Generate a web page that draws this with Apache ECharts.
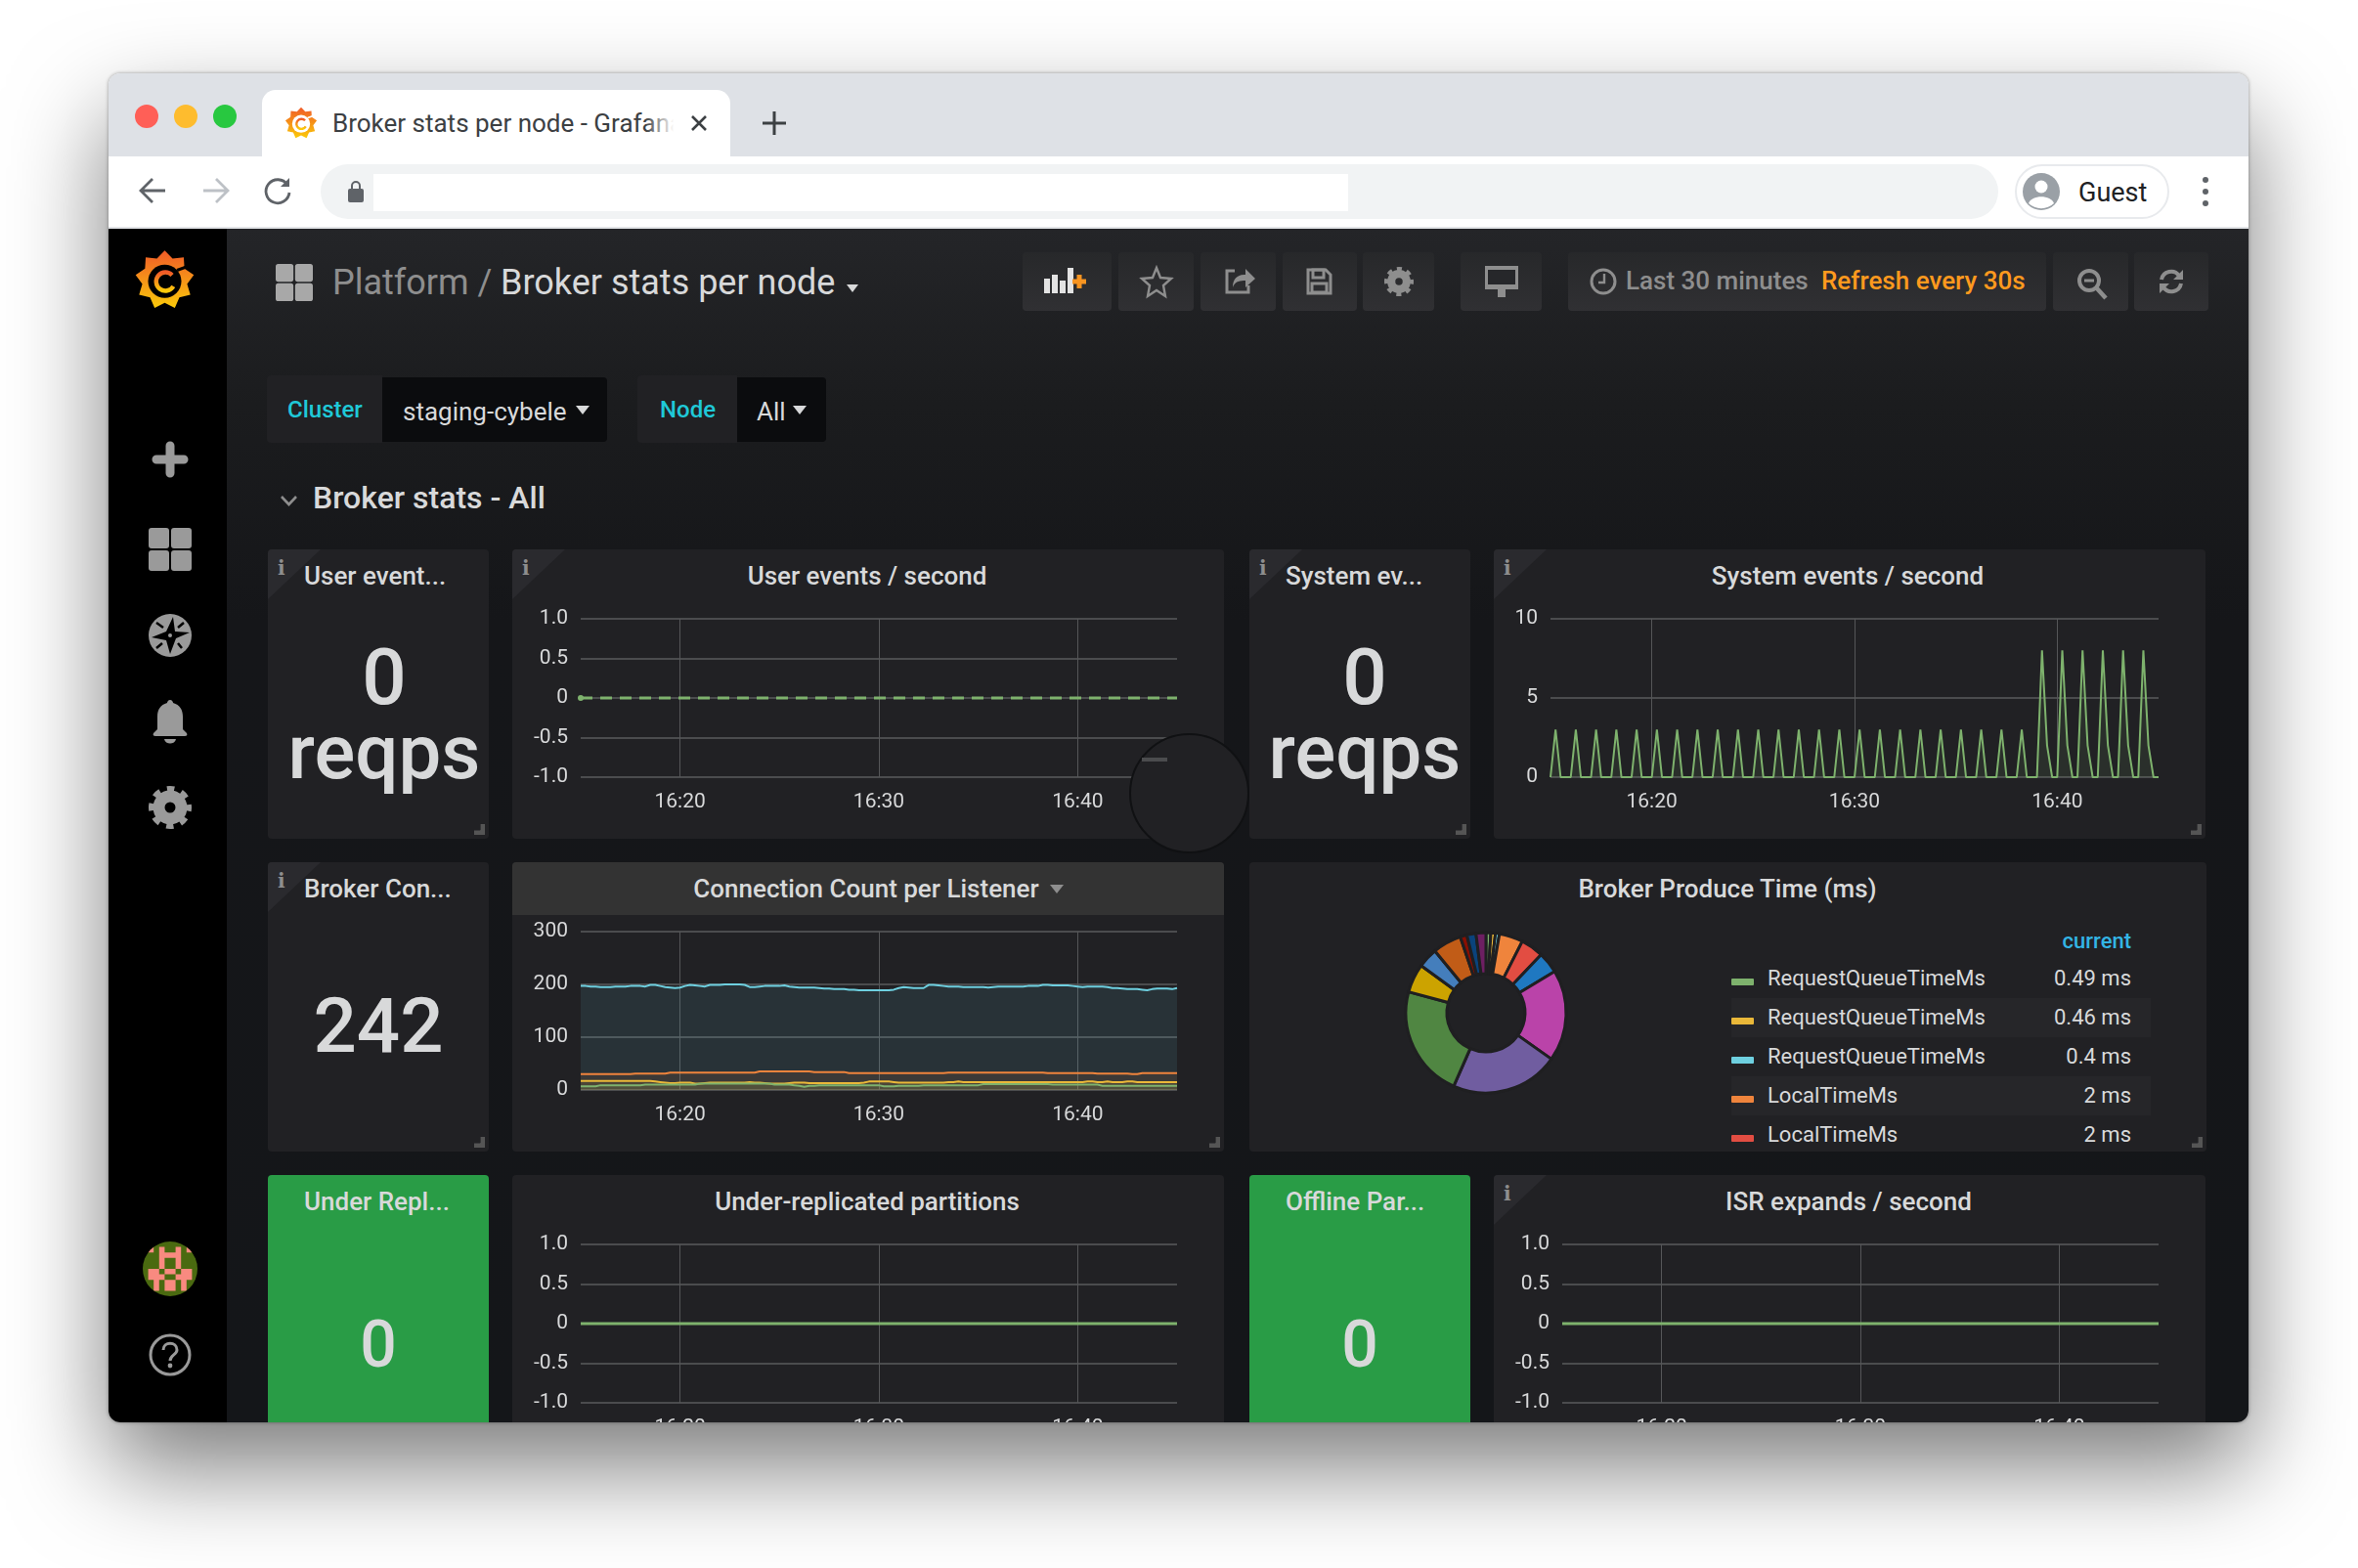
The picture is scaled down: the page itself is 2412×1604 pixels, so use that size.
<!DOCTYPE html>
<html>
<head>
<meta charset="utf-8">
<title>Broker stats per node - Grafana</title>
<script src="https://cdn.jsdelivr.net/npm/echarts@6/dist/echarts.min.js"></script>
<style>
    html, body { margin: 0; padding: 0; background: #fff; }
    body { width: 2412px; height: 1604px; overflow: hidden; position: relative; font-family: Roboto, sans-serif; }
    #win { position: absolute; left: 111px; top: 75px; width: 2189px; height: 1380px; border-radius: 12px; overflow: hidden; }
    #shadow { position: absolute; left: 111px; top: 75px; width: 2189px; height: 1380px; border-radius: 12px;
              box-shadow: 0 46px 100px rgba(0,0,0,.52), 0 0 3px 1px rgba(0,0,0,.22); }
    #inner { position: absolute; left: -111px; top: -75px; width: 2412px; height: 1604px; }
    .b { position: absolute; }
    .t { position: absolute; white-space: nowrap; line-height: 1; transform: translateY(-50%); color: #d8d9da; }
    .c { transform: translate(-50%,-50%); }
    .r { transform: translate(-100%,-50%); }
    .m { font-weight: 500; }
    .ic { position: absolute; overflow: visible; }
    .panel { position: absolute; background: #212124; border-radius: 4px; overflow: hidden; }
    .green { background: #299c46; }
    .btn { position: absolute; top: 258px; height: 60px; border-radius: 4px; background: linear-gradient(#27282a,#303033); }
    .corner { position: absolute; left: 0; top: 0; width: 0; height: 0; border-top: 51px solid #2a2a2e; border-right: 54px solid transparent; }
    .info { position: absolute; left: 10px; top: 9px; font: bold 20px "DejaVu Serif", serif; color: #8e8e8e; line-height: 20px; }
    .grip { position: absolute; width: 11px; height: 11px; border-right: 5px solid #555; border-bottom: 5px solid #555;
            clip-path: polygon(100% 0,100% 100%,0 100%,0 60%,60% 60%,60% 0); box-sizing: border-box; }
    .ptitle { font-size: 26px; font-weight: 500; top: 27px; }
    #chart { position: absolute; left: 0; top: 0; width: 2412px; height: 1604px; }
    .row { position: absolute; left: 1771px; width: 429px; height: 40px; }
    .row.alt { background: #262629; }
    .swatch { position: absolute; left: 0; top: 20px; width: 23px; height: 7px; border-radius: 1px; }
</style>
</head>
<body>
<svg width="0" height="0" style="position:absolute">
    <defs>
        <linearGradient id="gfg" x1="0" y1="0" x2="0" y2="1">
            <stop offset="0" stop-color="#f05a28"/><stop offset="1" stop-color="#fbca0a"/>
        </linearGradient>
        <symbol id="logo" viewBox="0 0 100 100">
            <path d="M50 2L62.700 15.200L80.900 13.200L82 31.500L97.300 41.700L86.400 56.400L91.600 74L73.800 78.300L66.400 95.100L50 87L33.600 95.100L26.200 78.300L8.400 74L13.600 56.400L2.700 41.700L18 31.500L19.100 13.200L37.300 15.200Z" fill="url(#gfg)"/>
            <circle cx="50" cy="52" r="27" style="fill:var(--hole)"/>
            <path d="M70 34L92 26" style="stroke:var(--hole)" stroke-width="5"/>
            <path d="M62 42A15 15 0 1 0 64 60" fill="none" stroke="url(#gfg)" stroke-width="7"/>
        </symbol>
        <symbol id="gear" viewBox="0 0 44 44">
            <circle cx="22" cy="22" r="11.500" fill="none" stroke="currentColor" stroke-width="12"/>
            <circle cx="22" cy="22" r="19" fill="none" stroke="currentColor" stroke-width="6" stroke-dasharray="7.460 7.460" stroke-dashoffset="3.700"/>
        </symbol>
        <symbol id="grid4" viewBox="0 0 44 44">
            <rect x="0" y="0" width="21" height="21" rx="3" fill="currentColor"/><rect x="23" y="0" width="21" height="21" rx="3" fill="currentColor"/>
            <rect x="0" y="23" width="21" height="21" rx="3" fill="currentColor"/><rect x="23" y="23" width="21" height="21" rx="3" fill="currentColor"/>
        </symbol>
    </defs>
</svg>
<div id="shadow"></div>
<div id="win"><div id="inner">

    <!-- browser chrome -->
    <div class="b" style="left:111px;top:75px;width:2189px;height:85px;background:#dee1e6"></div>
    <div class="b" style="left:111px;top:160px;width:2189px;height:72px;background:#fff"></div>
    <div class="b" style="left:111px;top:232px;width:2189px;height:2px;background:#e3e5e8"></div>
    <div class="b" style="left:138px;top:107px;width:24px;height:24px;border-radius:50%;background:#ff5f57"></div>
    <div class="b" style="left:178px;top:107px;width:24px;height:24px;border-radius:50%;background:#febc2e"></div>
    <div class="b" style="left:218px;top:107px;width:24px;height:24px;border-radius:50%;background:#28c840"></div>
    <div class="b" style="left:268px;top:92px;width:479px;height:68px;background:#fff;border-radius:14px 14px 0 0"></div>
    <svg class="ic" style="left:291px;top:109px;width:34px;height:34px;--hole:#fff"><use href="#logo"/></svg>
    <div class="t" style="left:340px;top:126px;font-size:26px;color:#3c4043">Broker stats per node - Grafana</div>
    <div class="b" style="left:660px;top:105px;width:42px;height:42px;background:linear-gradient(90deg,rgba(255,255,255,0),#fff 70%)"></div>
    <svg class="ic" style="left:706px;top:117px;width:18px;height:18px" viewBox="0 0 18 18"><path d="M2 2L16 16M16 2L2 16" stroke="#3c4043" stroke-width="2.600"/></svg>
    <svg class="ic" style="left:780px;top:114px;width:24px;height:24px" viewBox="0 0 24 24"><path d="M12 0V24M0 12H24" stroke="#3c4043" stroke-width="3"/></svg>
    <svg class="ic" style="left:142px;top:182px;width:28px;height:26px" viewBox="0 0 28 26"><path d="M27 13H3M14 1L2 13L14 25" fill="none" stroke="#5f6368" stroke-width="2.800"/></svg>
    <svg class="ic" style="left:207px;top:182px;width:28px;height:26px" viewBox="0 0 28 26"><path d="M1 13H25M14 1L26 13L14 25" fill="none" stroke="#bdc1c6" stroke-width="2.800"/></svg>
    <svg class="ic" style="left:270px;top:181px;width:28px;height:28px" viewBox="0 0 28 28"><path d="M24 8A12 12 0 1 0 26 16" fill="none" stroke="#5f6368" stroke-width="2.800"/><path d="M26 1V10H17Z" fill="#5f6368"/></svg>
    <div class="b" style="left:328px;top:168px;width:1716px;height:56px;background:#f1f3f4;border-radius:28px"></div>
    <div class="b" style="left:382px;top:178px;width:997px;height:38px;background:#fff"></div>
    <svg class="ic" style="left:355px;top:185px;width:18px;height:22px" viewBox="0 0 18 22"><rect x="1" y="8" width="16" height="14" rx="2" fill="#5f6368"/><path d="M5 9V5a4 4 0 0 1 8 0V9" fill="none" stroke="#5f6368" stroke-width="2"/></svg>
    <div class="b" style="left:2061px;top:168px;width:154px;height:52px;border:2px solid #e8eaed;border-radius:28px"></div>
    <svg class="ic" style="left:2069px;top:177px;width:38px;height:38px" viewBox="0 0 38 38"><circle cx="19" cy="19" r="19" fill="#9aa0a6"/><circle cx="19" cy="14" r="6.500" fill="#fff"/><path d="M6 31c3-9 23-9 26 0a19 19 0 0 1-26 0z" fill="#fff"/></svg>
    <div class="t" style="left:2126px;top:197px;font-size:27px;color:#202124">Guest</div>
    <div class="b" style="left:2253px;top:181px;width:6px;height:6px;border-radius:50%;background:#5f6368"></div>
    <div class="b" style="left:2253px;top:193px;width:6px;height:6px;border-radius:50%;background:#5f6368"></div>
    <div class="b" style="left:2253px;top:205px;width:6px;height:6px;border-radius:50%;background:#5f6368"></div>

    <!-- grafana page -->
    <div class="b" style="left:232px;top:234px;width:2068px;height:1221px;background:linear-gradient(#242528 0,#1b1c1e 180px,#151619 400px,#141619 100%)"></div>
    <div class="b" style="left:111px;top:234px;width:121px;height:1221px;background:#000"></div>
    <svg class="ic" style="left:137px;top:255px;width:63px;height:63px;--hole:#000"><use href="#logo"/></svg>
    <svg class="ic" style="left:157px;top:453px;width:34px;height:34px" viewBox="0 0 34 34"><path d="M17 3V31M3 17H31" stroke="#9a9a9a" stroke-width="9" stroke-linecap="round"/></svg>
    <svg class="ic" style="left:152px;top:540px;width:44px;height:44px;color:#9a9a9a"><use href="#grid4"/></svg>
    <svg class="ic" style="left:152px;top:628px;width:44px;height:44px" viewBox="0 0 44 44"><circle cx="22" cy="22" r="22" fill="#9a9a9a"/><path d="M25 3L27 18L42 19L28 25L22 41L18 27L3 24L18 18Z" fill="#000"/><path d="M8 9L15 14M36 9L30 14M8 35L14 30M34 35L30 30" stroke="#000" stroke-width="2.500"/><circle cx="22" cy="22" r="2" fill="#9a9a9a"/></svg>
    <svg class="ic" style="left:156px;top:716px;width:36px;height:46px" viewBox="0 0 36 46"><path d="M18 0c2 0 3 2 3 3c7 2 10 7 10 14v13l4 4c1 2 0 3-2 3H3c-2 0-3-1-2-3l4-4V17C5 10 8 5 15 3c0-1 1-3 3-3z" fill="#9a9a9a"/><path d="M12 40h12c-1 6-11 6-12 0z" fill="#9a9a9a"/></svg>
    <svg class="ic" style="left:152px;top:804px;width:44px;height:44px;color:#9a9a9a"><use href="#gear"/></svg>
    <svg class="ic" style="left:146px;top:1270px;width:56px;height:56px" viewBox="0 0 10 10">
        <clipPath id="av"><circle cx="5" cy="5" r="5"/></clipPath>
        <g clip-path="url(#av)"><rect width="10" height="10" fill="#4a6a10"/>
        <path d="M1 1h1v1h-1zM3 1h1v1h2v-1h1v4h-1v-2h-2v2h-1zM8 1h1v1h-1zM1 5h2v1h1v1h-1v2h-1v-2h-1zM4 5h2v1h-2zM7 5h2v2h-1v2h-1v-2h-1v-1h1zM4 7h2v2h-2z" fill="#f98a80"/></g>
    </svg>
    <svg class="ic" style="left:152px;top:1364px;width:44px;height:44px" viewBox="0 0 44 44"><circle cx="22" cy="22" r="20" fill="none" stroke="#9a9a9a" stroke-width="3"/><path d="M15 17c0-9 14-9 14 0c0 5-7 5-7 11" fill="none" stroke="#9a9a9a" stroke-width="3"/><circle cx="22" cy="33" r="2.400" fill="#9a9a9a"/></svg>

    <!-- header row -->
    <svg class="ic" style="left:282px;top:270px;width:38px;height:38px;color:#a8a8a8"><use href="#grid4"/></svg>
    <div class="t" style="left:340px;top:289px;font-size:36px;color:#8e8e8e">Platform /</div>
    <div class="t" style="left:512px;top:289px;font-size:36px">Broker stats per node</div>
    <svg class="ic" style="left:866px;top:291px;width:12px;height:8px" viewBox="0 0 12 8"><path d="M0 0H12L6 8Z" fill="#d8d9da"/></svg>

    <div class="btn" style="left:1046px;width:91px"></div>
    <div class="btn" style="left:1144px;width:77px"></div>
    <div class="btn" style="left:1228px;width:77px"></div>
    <div class="btn" style="left:1312px;width:76px"></div>
    <div class="btn" style="left:1394px;width:73px"></div>
    <div class="btn" style="left:1494px;width:83px"></div>
    <div class="btn" style="left:1604px;width:489px"></div>
    <div class="btn" style="left:2100px;width:77px"></div>
    <div class="btn" style="left:2183px;width:76px"></div>
    <svg class="ic" style="left:1068px;top:274px;width:48px;height:26px" viewBox="0 0 48 26"><path d="M0 11h6v15h-6zM8 7h6v19h-6zM16 13h6v13h-6zM24 0h6v26h-6z" fill="#e3e3e3"/><path d="M36 7V21M29 14H43" stroke="#f79420" stroke-width="5"/></svg>
    <svg class="ic" style="left:1167px;top:272px;width:32px;height:32px" viewBox="0 0 32 32"><path d="M16 2L20 12L31 13L23 20L25 31L16 25L7 31L9 20L1 13L12 12Z" fill="none" stroke="#8e8e8e" stroke-width="2.400"/></svg>
    <svg class="ic" style="left:1252px;top:272px;width:32px;height:30px" viewBox="0 0 32 30"><path d="M11 5H3v22h22v-7" fill="none" stroke="#8e8e8e" stroke-width="3"/><path d="M9 22c0-10 6-13 13-13V3l10 10l-10 9v-7c-6 0-11 1-13 7z" fill="#8e8e8e"/></svg>
    <svg class="ic" style="left:1336px;top:274px;width:27px;height:28px" viewBox="0 0 27 28"><path d="M2 2H20L25 7V26H2Z" fill="none" stroke="#8e8e8e" stroke-width="3"/><path d="M7 2H18V10H7ZM6 16H21V25H6Z" fill="none" stroke="#8e8e8e" stroke-width="3"/></svg>
    <svg class="ic" style="left:1416px;top:273px;width:30px;height:30px;color:#8e8e8e"><use href="#gear"/></svg>
    <svg class="ic" style="left:1518px;top:272px;width:36px;height:32px" viewBox="0 0 36 32"><path d="M1 0H35V24H1Z" fill="#8e8e8e"/><path d="M4 4H32V19H4Z" fill="#26272a"/><path d="M14 24H22V32H14Z" fill="#8e8e8e"/></svg>
    <svg class="ic" style="left:1626px;top:274px;width:28px;height:28px" viewBox="0 0 28 28"><circle cx="14" cy="14" r="12" fill="none" stroke="#8e8e8e" stroke-width="3"/><path d="M15 6V15H9" fill="none" stroke="#8e8e8e" stroke-width="2.400"/></svg>
    <div class="t m" style="left:1663px;top:287px;font-size:26px;color:#8e8e8e">Last 30 minutes</div>
    <div class="t m" style="left:1863px;top:287px;font-size:26px;color:#ff9a1e">Refresh every 30s</div>
    <svg class="ic" style="left:2124px;top:274px;width:32px;height:32px" viewBox="0 0 32 32"><circle cx="13" cy="13" r="10" fill="none" stroke="#8e8e8e" stroke-width="4"/><path d="M20 20L30 31" stroke="#8e8e8e" stroke-width="4.500"/><path d="M8 13H18" stroke="#8e8e8e" stroke-width="3"/></svg>
    <svg class="ic" style="left:2207px;top:274px;width:28px;height:28px" viewBox="0 0 28 28"><path d="M4 12A10 10 0 0 1 22 8M24 16A10 10 0 0 1 6 20" fill="none" stroke="#8e8e8e" stroke-width="4"/><path d="M26 2V12H16ZM2 26V16H12Z" fill="#8e8e8e"/></svg>

    <!-- template variables -->
    <div class="b" style="left:273px;top:384px;width:118px;height:69px;background:#212124;border-radius:4px 0 0 4px"></div>
    <div class="b" style="left:391px;top:386px;width:230px;height:66px;background:#0b0c0e;border-radius:0 4px 4px 0"></div>
    <div class="t m" style="left:294px;top:419px;font-size:24px;color:#1fc9d8">Cluster</div>
    <div class="t" style="left:412px;top:421px;font-size:26px">staging-cybele</div>
    <svg class="ic" style="left:589px;top:415px;width:14px;height:9px" viewBox="0 0 14 9"><path d="M0 0H14L7 9Z" fill="#d8d9da"/></svg>
    <div class="b" style="left:652px;top:384px;width:102px;height:69px;background:#212124;border-radius:4px 0 0 4px"></div>
    <div class="b" style="left:754px;top:386px;width:91px;height:66px;background:#0b0c0e;border-radius:0 4px 4px 0"></div>
    <div class="t m" style="left:675px;top:419px;font-size:24px;color:#1fc9d8">Node</div>
    <div class="t" style="left:774px;top:421px;font-size:26px">All</div>
    <svg class="ic" style="left:811px;top:415px;width:14px;height:9px" viewBox="0 0 14 9"><path d="M0 0H14L7 9Z" fill="#d8d9da"/></svg>

    <svg class="ic" style="left:287px;top:506px;width:17px;height:12px" viewBox="0 0 17 12"><path d="M1 2L8.500 10L16 2" fill="none" stroke="#8e8e8e" stroke-width="2.600"/></svg>
    <div class="t m" style="left:320px;top:509px;font-size:32px">Broker stats - All</div>

    <!-- row 1 -->
    <div class="panel" style="left:274px;top:562px;width:226px;height:296px">
        <div class="corner"></div><div class="info">i</div>
        <div class="grip" style="right:4px;bottom:4px"></div>
    </div>
    <div class="t ptitle" style="left:311px;top:589px">User event...</div>
    <div class="t c m" style="left:393px;top:693px;font-size:80px">0</div>
    <div class="t c m" style="left:393px;top:770px;font-size:78px">reqps</div>
    <div class="panel" style="left:524px;top:562px;width:728px;height:296px">
        <div class="corner"></div><div class="info">i</div>
    </div>
    <div class="t c ptitle" style="left:887px;top:589px">User events / second</div>
    <div class="panel" style="left:1278px;top:562px;width:226px;height:296px">
        <div class="corner"></div><div class="info">i</div>
        <div class="grip" style="right:4px;bottom:4px"></div>
    </div>
    <div class="t ptitle" style="left:1315px;top:589px">System ev...</div>
    <div class="t c m" style="left:1396px;top:693px;font-size:80px">0</div>
    <div class="t c m" style="left:1396px;top:770px;font-size:78px">reqps</div>
    <div class="panel" style="left:1528px;top:562px;width:728px;height:296px">
        <div class="corner"></div><div class="info">i</div>
        <div class="grip" style="right:4px;bottom:4px"></div>
    </div>
    <div class="t c ptitle" style="left:1890px;top:589px">System events / second</div>

    <!-- row 2 -->
    <div class="panel" style="left:274px;top:882px;width:226px;height:296px">
        <div class="corner"></div><div class="info">i</div>
        <div class="grip" style="right:4px;bottom:4px"></div>
    </div>
    <div class="t ptitle" style="left:311px;top:909px">Broker Con...</div>
    <div class="t c m" style="left:387px;top:1050px;font-size:78px">242</div>
    <div class="panel" style="left:524px;top:882px;width:728px;height:296px">
        <div class="b" style="left:0;top:0;width:728px;height:54px;background:#333"></div>
        <div class="grip" style="right:4px;bottom:4px"></div>
    </div>
    <div class="t c ptitle" style="left:886px;top:909px">Connection Count per Listener</div>
    <svg class="ic" style="left:1074px;top:905px;width:14px;height:9px" viewBox="0 0 14 9"><path d="M0 0H14L7 9Z" fill="#8e8e8e"/></svg>
    <div class="panel" style="left:1278px;top:882px;width:979px;height:296px">
        <div class="grip" style="right:4px;bottom:4px"></div>
    </div>
    <div class="t c ptitle" style="left:1767px;top:909px">Broker Produce Time (ms)</div>
    <div id="legend"></div>
    <div class="t r m" style="left:2180px;top:963px;font-size:22px;color:#33b5e5">current</div>

    <!-- row 3 -->
    <div class="panel green" style="left:274px;top:1202px;width:226px;height:296px"></div>
    <div class="t ptitle" style="left:311px;top:1229px">Under Repl...</div>
    <div class="t c m" style="left:387px;top:1376px;font-size:66px">0</div>
    <div class="panel" style="left:524px;top:1202px;width:728px;height:296px"></div>
    <div class="t c ptitle" style="left:887px;top:1229px">Under-replicated partitions</div>
    <div class="panel green" style="left:1278px;top:1202px;width:226px;height:296px"></div>
    <div class="t ptitle" style="left:1315px;top:1229px">Offline Par...</div>
    <div class="t c m" style="left:1391px;top:1376px;font-size:66px">0</div>
    <div class="panel" style="left:1528px;top:1202px;width:728px;height:296px">
        <div class="corner"></div><div class="info">i</div>
    </div>
    <div class="t c ptitle" style="left:1891px;top:1229px">ISR expands / second</div>

    <div id="chart"></div>

    <!-- round overlay on the first graph -->
    <div class="b" style="left:1155px;top:750px;width:119px;height:119px;border-radius:50%;background:#212124;border:2px solid #101113;z-index:5"></div>
    <div class="b" style="left:1168px;top:775px;width:26px;height:4px;background:#4b4c4e;z-index:6"></div>

</div></div>

<script>
    // 数据
    var tickTimes = ['16:20:00', '16:30:00', '16:40:00'];
    var flatLine = [0,0,0,0,0,0,0,0,0,0,0,0,0,0,0,0,0,0,0,0,0,0,0,0,0,0,0,0,0,0,0,0,0,0,0,0,0,0,0,0,0,0,0,0,0,0,0,0,0,0,0,0,0,0,0,0,0,0,0,0,0,0,0,0,0,0,0,0,0,0,0,0,0,0,0,0,0,0,0,0,0,0,0,0,0,0,0,0,0,0,0,0,0,0,0,0,0,0,0,0,0,0,0,0,0,0,0,0,0,0,0,0,0,0,0,0,0,0,0,0,0];
    var systemEvents = [0,3,0,0,0,3,0,0,0,3,0,0,0,3,0,0,0,3,0,0,0,3,0,0,0,3,0,0,0,3,0,0,0,3,0,0,0,3,0,0,0,3,0,0,0,3,0,0,0,3,0,0,0,3,0,0,0,3,0,0,0,3,0,0,0,3,0,0,0,3,0,0,0,3,0,0,0,3,0,0,0,3,0,0,0,3,0,0,0,3,0,0,0,3,0,0,0,8,2,0,0,8,2,0,0,8,2,0,0,8,2,0,0,8,2,0,0,8,2,0,0];
    var connCyan = [197,197,196,196,195,195,195,196,196,196,197,197,197,196,199,199,197,195,194,193,194,197,199,198,197,196,199,199,199,200,200,200,200,199,195,195,196,197,197,197,197,198,196,195,194,194,194,194,193,192,192,191,191,191,190,190,189,189,189,189,189,189,189,190,193,195,194,193,193,193,199,199,198,197,196,196,196,195,195,195,195,195,194,195,196,196,196,196,196,196,197,197,197,199,199,198,198,198,198,197,196,195,196,196,196,196,195,193,193,192,191,191,191,190,189,191,192,192,192,191,193];
    var connOrange = [30,30,30,30,30,30,30,30,30,30,30,31,31,31,31,31,31,31,33,33,33,33,33,33,33,33,33,33,33,33,33,33,33,33,33,33,35,35,35,35,35,35,35,35,35,35,35,34,34,34,34,34,34,34,32,32,32,32,32,32,32,32,32,32,32,32,32,32,32,32,32,32,32,32,33,33,33,33,33,33,33,33,33,33,33,33,33,33,33,33,33,33,33,33,32,32,32,32,32,32,32,32,32,32,31,31,31,31,31,31,31,30,30,32,32,32,32,32,32,32,32];
    var connYellow = [17,17,17,17,17,17,17,17,17,17,17,17,17,17,17,16,15,14,13,13,14,14,14,12,12,13,14,14,14,14,14,14,14,14,15,14,14,13,12,12,12,12,13,14,14,14,13,13,13,13,13,13,13,13,13,13,13,14,16,16,16,16,16,15,14,14,14,14,14,14,14,14,14,14,15,15,16,15,15,15,15,15,15,15,15,15,15,15,15,15,15,15,15,15,15,15,15,15,15,15,15,15,16,16,15,15,16,15,15,15,16,16,15,15,15,15,15,15,15,15,15];
    var connGreen = [7,7,7,7,9,9,9,9,9,9,9,9,9,10,10,10,10,10,10,10,10,10,10,10,12,12,12,12,12,12,12,12,12,12,12,12,12,12,12,10,10,10,10,9,8,6,8,8,9,9,9,9,9,9,9,9,9,9,9,9,9,7,7,7,8,8,8,8,8,9,9,9,9,9,9,9,9,9,9,9,9,11,11,11,11,11,11,11,11,11,11,11,11,11,11,10,10,10,10,10,10,10,10,10,10,8,8,8,8,8,8,8,8,8,8,8,8,8,8,8,8];
    var pieNames = ['RequestQueueTimeMs 1', 'RequestQueueTimeMs 2', 'RequestQueueTimeMs 3', 'LocalTimeMs 1', 'LocalTimeMs 2', 'LocalTimeMs 3', 'RemoteTimeMs 1', 'RemoteTimeMs 2', 'RemoteTimeMs 3', 'ResponseQueueTimeMs 1', 'ResponseQueueTimeMs 2', 'ResponseQueueTimeMs 3', 'ResponseSendTimeMs 1', 'ResponseSendTimeMs 2', 'ResponseSendTimeMs 3'];
    var pieValues = [0.49, 0.46, 0.4, 2.4, 2.3, 2.15, 9.2, 10.9, 11.3, 2.9, 2.0, 2.9, 0.68, 0.92, 1.0];
    var pieColors = ['#7eb26d', '#eab839', '#6ed0e0', '#ef843c', '#e24d42', '#1f78c1', '#ba43a9', '#705da0', '#508642', '#cca300', '#447ebc', '#c15c17', '#890f02', '#0a437c', '#6d1f62'];
    var legendNames = ['RequestQueueTimeMs', 'RequestQueueTimeMs', 'RequestQueueTimeMs', 'LocalTimeMs', 'LocalTimeMs'];
    var legendValues = ['0.49 ms', '0.46 ms', '0.4 ms', '2 ms', '2 ms'];

    // 时间轴：16:15 到 16:45，每 15 秒一个点
    var categories = [];
    for (var m = 15; m <= 45; m++) {
        ['00', '15', '30', '45'].forEach(function (s) {
            if (m < 45 || s === '00') categories.push('16:' + m + ':' + s);
        });
    }

    // 图例
    var legendHtml = '';
    legendNames.forEach(function (name, i) {
        legendHtml += '<div class="row' + (i % 2 ? ' alt' : '') + '" style="top:' + (981 + i * 40) + 'px">' +
            '<div class="swatch" style="background:' + pieColors[i] + '"></div>' +
            '<div class="t" style="left:37px;top:20px;font-size:22px">' + name + '</div>' +
            '<div class="t r" style="left:409px;top:20px;font-size:22px">' + legendValues[i] + '</div></div>';
    });
    document.getElementById('legend').innerHTML = legendHtml;

    var isTick = function (index, value) { return tickTimes.indexOf(value) >= 0; };
    var textColor = '#d8d9da';

    function makeGrid(left, top, width) {
        return { left: left, top: top, width: width, height: 162, containLabel: false };
    }
    function makeX(gridIndex) {
        return {
            type: 'category', gridIndex: gridIndex, data: categories, boundaryGap: false,
            axisLine: { show: false }, axisTick: { show: false },
            axisLabel: { interval: isTick, margin: 15, color: textColor, fontFamily: 'Roboto', fontSize: 21,
                formatter: function (v) { return v.slice(0, 5); } },
            splitLine: { show: true, interval: isTick, lineStyle: { color: '#555658', width: 1 } }
        };
    }
    function makeY(gridIndex, min, max, interval, digits) {
        return {
            type: 'value', gridIndex: gridIndex, min: min, max: max, interval: interval,
            axisLine: { show: false }, axisTick: { show: false },
            axisLabel: { margin: 13, color: textColor, fontFamily: 'Roboto', fontSize: 21,
                formatter: function (v) { return v === 0 ? '0' : v.toFixed(digits); } },
            splitLine: { show: true, lineStyle: { color: '#4b4c4e', width: 2 } }
        };
    }
    function line(gridIndex, data, color, fill) {
        return {
            type: 'line', xAxisIndex: gridIndex, yAxisIndex: gridIndex, data: data, showSymbol: false, silent: true,
            lineStyle: { color: color, width: 2 }, itemStyle: { color: color },
            areaStyle: fill ? { color: color, opacity: 0.1 } : undefined
        };
    }

    var userLine = line(0, flatLine, '#7eb26d', false);
    userLine.lineStyle = { color: '#7eb26d', width: 3, type: [12, 8] };
    userLine.showSymbol = true;
    userLine.showAllSymbol = true;
    userLine.symbol = 'circle';
    userLine.symbolSize = function (v, p) { return p.dataIndex === 0 ? 6 : 0; };
    var flatA = line(3, flatLine, '#7eb26d', false);
    flatA.lineStyle.width = 3;
    var flatB = line(4, flatLine, '#7eb26d', false);
    flatB.lineStyle.width = 3;

    var pieData = pieNames.map(function (name, i) {
        return { name: name, value: pieValues[i], itemStyle: { color: pieColors[i] } };
    });

    var myChart = echarts.init(document.getElementById('chart'), null, { renderer: 'canvas' });
    myChart.setOption({
        animation: false,
        backgroundColor: 'transparent',
        grid: [makeGrid(594, 633, 610), makeGrid(1586, 633, 622), makeGrid(594, 953, 610), makeGrid(594, 1273, 610), makeGrid(1598, 1273, 610)],
        xAxis: [makeX(0), makeX(1), makeX(2), makeX(3), makeX(4)],
        yAxis: [makeY(0, -1, 1, 0.5, 1), makeY(1, 0, 10, 5, 0), makeY(2, 0, 300, 100, 0), makeY(3, -1, 1, 0.5, 1), makeY(4, -1, 1, 0.5, 1)],
        series: [
            userLine,
            line(1, systemEvents, '#7eb26d', true),
            line(2, connCyan, '#6ed0e0', true),
            line(2, connOrange, '#ef843c', true),
            line(2, connYellow, '#eab839', true),
            line(2, connGreen, '#7eb26d', true),
            flatA,
            flatB,
            {
                type: 'pie', silent: true, center: [1520, 1036], radius: [40, 82], startAngle: 90,
                label: { show: false }, labelLine: { show: false },
                itemStyle: { borderColor: '#1f1f21', borderWidth: 3 },
                data: pieData
            }
        ]
    });
</script>
</body>
</html>
